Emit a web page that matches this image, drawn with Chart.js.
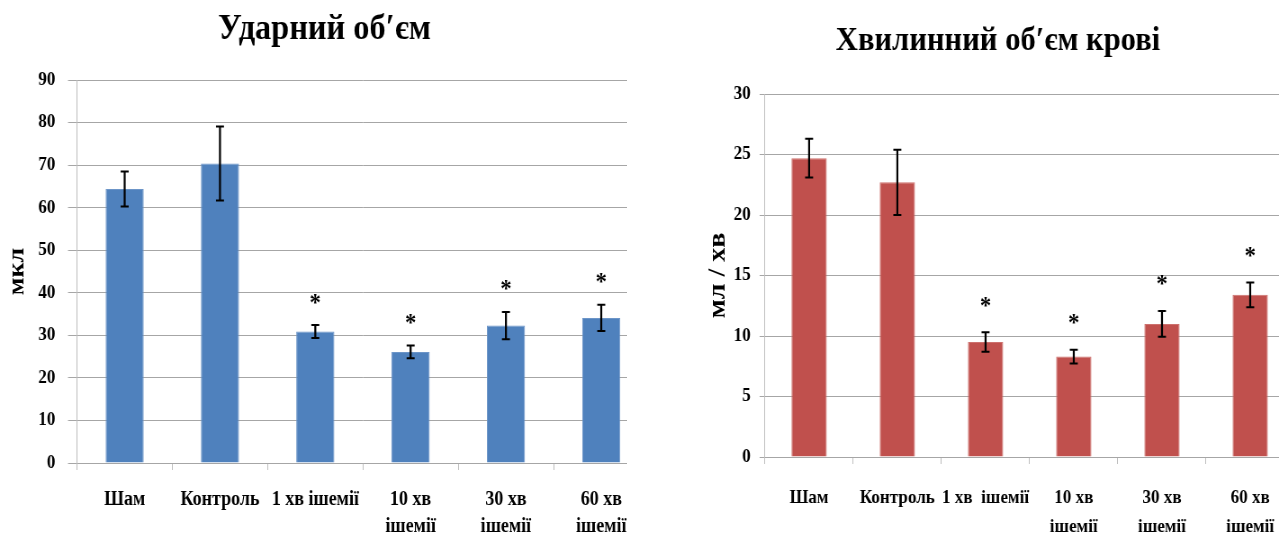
<!DOCTYPE html>
<html>
<head>
<meta charset="utf-8">
<script src="https://cdn.jsdelivr.net/npm/chart.js@4.4.1/dist/chart.umd.min.js"></script>
<style>
  html, body { margin: 0; padding: 0; background: #fff; overflow: hidden; }
  body { width: 1279px; height: 540px; position: relative; }
  /* текст у оригіналі трохи звужений, тому весь графік стискаємо по горизонталі */
  .squeeze { position: absolute; top: 0; height: 540px; transform: scaleX(0.9); transform-origin: 0 0; }
  #leftClip { position: absolute; left: 0; top: 0; width: 627px; height: 540px; overflow: hidden; }
  #leftBox { left: 0; width: 739px; }
  #rightBox { left: 640px; width: 745px; }
</style>
</head>
<body>
<div id="leftClip"><div id="leftBox" class="squeeze"><canvas id="strokeChart"></canvas></div></div>
<div id="rightBox" class="squeeze"><canvas id="minuteChart"></canvas></div>
<script>
// дані
const strokeLabels = ["Шам", "Контроль", "1 хв ішемії", ["10 хв", "ішемії"], ["30 хв", "ішемії"], ["60 хв", "ішемії"]];
const strokeValues = [64.4, 70.4, 30.9, 26.1, 32.3, 34.1];
const strokeErrors = [4.1, 8.7, 1.5, 1.5, 3.2, 3.1];
const strokeTicks = [0, 90, 10]; // min, max, step

const minuteLabels = ["Шам", "Контроль", "1 хв  ішемії", ["10 хв", "ішемії"], ["30 хв", "ішемії"], ["60 хв", "ішемії"]];
const minuteValues = [24.7, 22.7, 9.5, 8.3, 11.0, 13.4];
const minuteErrors = [1.6, 2.7, 0.8, 0.57, 1.07, 1.03];
const minuteTicks = [0, 30, 5];

const significant = [false, false, true, true, true, true];

const FONT = '"Liberation Serif", "Times New Roman", serif';
const SX = 0.9; // горизонтальне стискання

// похибки та зірочки
const errorBarsPlugin = {
    id: 'errorBars',
    afterDatasetsDraw(chart, args, opts) {
        const ctx = chart.ctx;
        const yScale = chart.scales.y;
        const meta = chart.getDatasetMeta(0);
        const values = chart.data.datasets[0].data;
        const cap = 4 / SX;
        ctx.save();
        ctx.strokeStyle = '#000';
        meta.data.forEach((bar, i) => {
            const top = yScale.getPixelForValue(values[i] + opts.errors[i]);
            const bottom = yScale.getPixelForValue(values[i] - opts.errors[i]);
            ctx.lineWidth = 2 / SX;
            ctx.beginPath();
            ctx.moveTo(bar.x, top);
            ctx.lineTo(bar.x, bottom);
            ctx.stroke();
            ctx.lineWidth = 2;
            ctx.beginPath();
            ctx.moveTo(bar.x - cap, top);
            ctx.lineTo(bar.x + cap, top);
            ctx.moveTo(bar.x - cap, bottom);
            ctx.lineTo(bar.x + cap, bottom);
            ctx.stroke();
            if (opts.marks[i]) {
                ctx.fillStyle = '#000';
                ctx.font = 'bold 25px ' + FONT;
                ctx.textAlign = 'center';
                ctx.textBaseline = 'middle';
                ctx.fillText('*', bar.x, top - opts.markOffset + 5);
            }
        });
        ctx.restore();
    }
};

function drawChart(canvasId, labels, values, errors, ticks, cfg) {
    const ctx = document.getElementById(canvasId).getContext('2d');
    return new Chart(ctx, {
        type: 'bar',
        data: {
            labels: labels,
            datasets: [{
                data: values,
                backgroundColor: cfg.color,
                borderColor: cfg.edge,
                borderWidth: 1,
                barPercentage: 0.4,
                categoryPercentage: 1.0
            }]
        },
        plugins: [errorBarsPlugin],
        options: {
            responsive: true,
            maintainAspectRatio: false,
            animation: false,
            layout: { padding: { left: cfg.padLeft, right: cfg.right, top: 0, bottom: 0 } },
            plugins: {
                legend: { display: false },
                tooltip: { enabled: false },
                title: {
                    display: true,
                    text: cfg.title,
                    color: '#000',
                    font: { family: FONT, size: cfg.titleSize, weight: 'bold', lineHeight: 1.2 },
                    padding: { top: cfg.titleTop, bottom: cfg.titleBottom }
                },
                errorBars: { errors: errors, marks: significant, markOffset: cfg.markOffset }
            },
            scales: {
                x: {
                    offset: true,
                    grid: { display: true, offset: true, drawOnChartArea: false, color: '#BFBFBF', tickLength: 7 },
                    border: { color: '#A6A6A6', width: 1 },
                    ticks: {
                        color: '#000',
                        maxRotation: 0,
                        autoSkip: false,
                        padding: cfg.xPad,
                        font: { family: FONT, size: cfg.xSize, weight: 'bold', lineHeight: cfg.xLine }
                    },
                    afterFit(scale) { scale.height = 540 - cfg.bottom; }
                },
                y: {
                    min: ticks[0],
                    max: ticks[1],
                    grid: { color: '#A6A6A6', tickLength: cfg.yTick },
                    border: { color: '#BFBFBF', width: 1 },
                    ticks: {
                        stepSize: ticks[2],
                        color: '#000',
                        padding: cfg.yPad,
                        font: { family: FONT, size: 19, weight: 'bold' }
                    },
                    title: {
                        display: true,
                        text: cfg.yTitle,
                        color: '#000',
                        font: { family: FONT, size: cfg.yTitleSize, weight: 'bold', lineHeight: 1.2 },
                        padding: { top: cfg.yTitleTop, bottom: 0 }
                    },
                    afterFit(scale) { scale.width = cfg.left - cfg.padLeft; }
                }
            }
        }
    });
}

drawChart('strokeChart', strokeLabels, strokeValues, strokeErrors, strokeTicks, {
    color: '#4F81BD', edge: '#6C95C8',
    title: 'Ударний об′єм',
    titleSize: 36, titleTop: 7.8, titleBottom: 29,
    yTitle: 'мкл', yTitleSize: 26, yTitleTop: 4,
    padLeft: 0, left: 77 / SX, right: 18, bottom: 463,
    yTick: 10, yPad: 14,
    xSize: 20, xPad: 16, xLine: 1.35,
    markOffset: 26
});

drawChart('minuteChart', minuteLabels, minuteValues, minuteErrors, minuteTicks, {
    color: '#C0504D', edge: '#CD706D',
    title: 'Хвилинний об′єм крові',
    titleSize: 34, titleTop: 21, titleBottom: 32.2,
    yTitle: 'мл / хв', yTitleSize: 28, yTitleTop: 1.4,
    padLeft: 68.6, left: 125 / SX, right: 18, bottom: 457,
    yTick: 6, yPad: 10,
    xSize: 19, xPad: 19, xLine: 1.55,
    markOffset: 30
});
</script>
</body>
</html>
